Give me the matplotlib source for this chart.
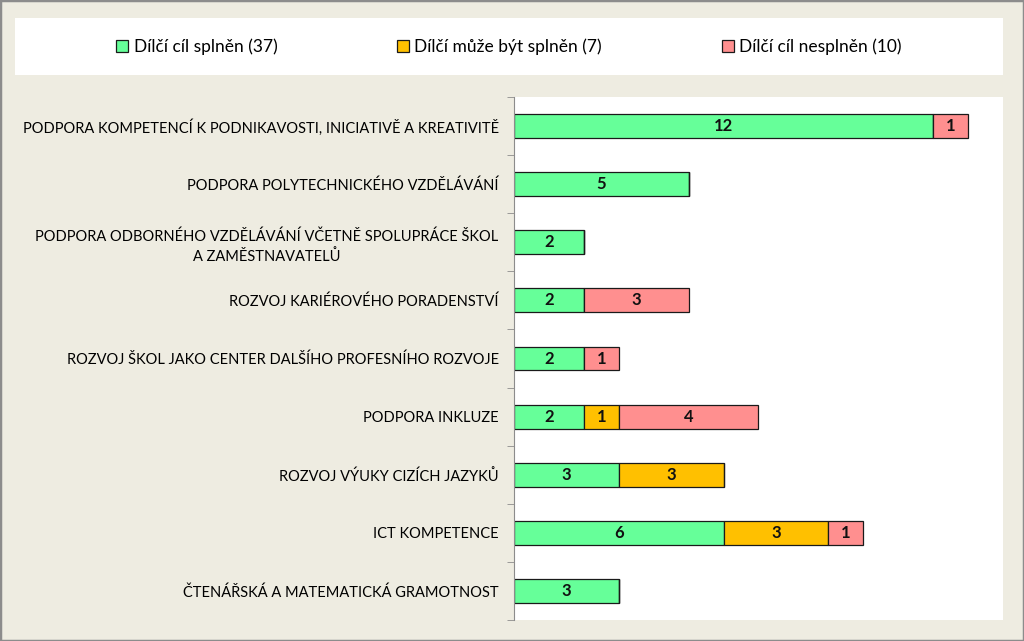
import numpy as np
import matplotlib.pyplot as plt
from matplotlib.patches import Rectangle

# kategorie (shora dolů)
kategorie = [
    "PODPORA KOMPETENCÍ K PODNIKAVOSTI, INICIATIVĚ A KREATIVITĚ",
    "PODPORA POLYTECHNICKÉHO VZDĚLÁVÁNÍ",
    "PODPORA ODBORNÉHO VZDĚLÁVÁNÍ VČETNĚ SPOLUPRÁCE ŠKOL\nA ZAMĚSTNAVATELŮ",
    "ROZVOJ KARIÉROVÉHO PORADENSTVÍ",
    "ROZVOJ ŠKOL JAKO CENTER DALŠÍHO PROFESNÍHO ROZVOJE",
    "PODPORA INKLUZE",
    "ROZVOJ VÝUKY CIZÍCH JAZYKŮ",
    "ICT KOMPETENCE",
    "ČTENÁŘSKÁ A MATEMATICKÁ GRAMOTNOST",
]
splnen = [12, 5, 2, 2, 2, 2, 3, 6, 3]
muze_byt = [0, 0, 0, 0, 0, 1, 3, 3, 0]
nesplnen = [1, 0, 0, 3, 1, 4, 0, 1, 0]

serie = [
    ("Dílčí cíl splněn (37)", splnen, "#66FF99"),
    ("Dílčí může být splněn (7)", muze_byt, "#FFC000"),
    ("Dílčí cíl nesplněn (10)", nesplnen, "#FF8F8F"),
]

plt.rcParams['font.family'] = ['Lato', 'DejaVu Sans']

fig = plt.figure(figsize=(10.24, 6.41), dpi=100)
fig.patch.set_facecolor("#EEECE1")
fig.patches.append(Rectangle((0, 0), 1, 1, transform=fig.transFigure,
                             fill=False, edgecolor="#8C8C8C", linewidth=2.5))

# legenda v bílém pruhu
W, H = 1024, 641
lax = fig.add_axes([15 / W, 1 - 75 / H, (1003 - 15) / W, (75 - 18) / H])
lax.set_facecolor("white")
lax.set_xticks([])
lax.set_yticks([])
for s in lax.spines.values():
    s.set_visible(False)

ax = fig.add_axes([514 / W, 1 - 620 / H, (1003 - 514) / W, (620 - 97) / H])
y = np.arange(len(kategorie))
left = np.zeros(len(kategorie))
handles = []
for nazev, hodnoty, barva in serie:
    hodnoty = np.array(hodnoty)
    bars = ax.barh(y, hodnoty, left=left, height=0.41, color=barva,
                   edgecolor="#1a1a1a", linewidth=0.9, label=nazev)
    for b, v in zip(bars, hodnoty):
        if v > 0:
            ax.text(b.get_x() + b.get_width() / 2, b.get_y() + b.get_height() / 2,
                    str(v), ha="center", va="center", fontsize=12,
                    fontweight="bold", color="#111111")
    left += hodnoty
    handles.append(bars)

ax.set_xlim(0, 14)
ax.set_ylim(len(kategorie) - 0.5, -0.5)
ax.set_xticks([])
ax.set_yticks(y)
ax.set_yticklabels(kategorie, fontsize=10.5, ha="right", multialignment="center",
                   linespacing=1.5)
ax.tick_params(axis="y", length=0, pad=11)
ax.set_yticks(np.arange(-0.5, len(kategorie), 1), minor=True)
ax.tick_params(axis="y", which="minor", length=5, color="#8C8C8C", direction="out")
for k in ["top", "right", "bottom"]:
    ax.spines[k].set_visible(False)
ax.spines["left"].set_color("#8C8C8C")

lax.legend(handles=handles, loc="center", ncol=3, frameon=False,
           fontsize=12.5, handlelength=0.7, handleheight=0.7,
           handletextpad=0.3, columnspacing=6.9)

fig.savefig("out.png", dpi=100, facecolor=fig.get_facecolor())
